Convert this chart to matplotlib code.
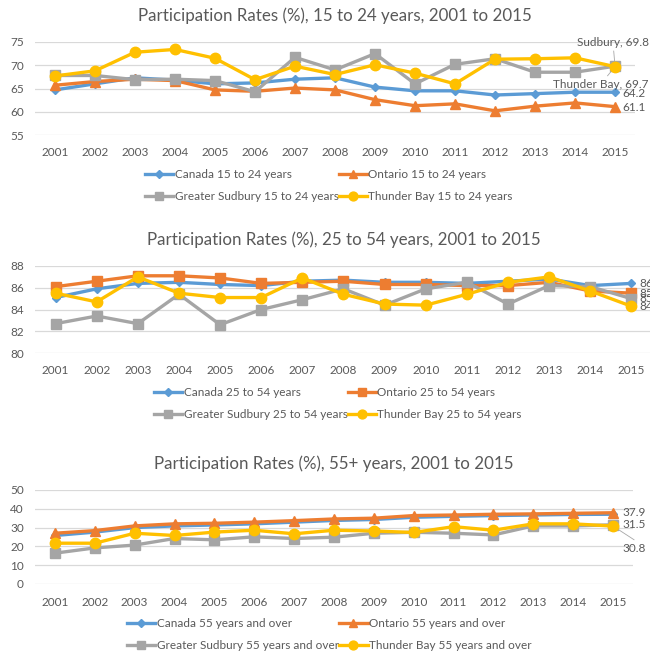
import numpy as np
import matplotlib
matplotlib.use("Agg")
from matplotlib import pyplot as plt

plt.rcParams['font.family'] = ['Lato', 'DejaVu Sans']

years = [str(y) for y in range(2001, 2016)]

# 15 to 24 years
canada_15 = [64.7, 66.0, 67.3, 66.8, 66.0, 66.2, 67.0, 67.3, 65.3, 64.5, 64.5, 63.6, 63.9, 64.2, 64.2]
ontario_15 = [65.7, 66.5, 67.0, 66.7, 64.7, 64.4, 65.1, 64.7, 62.6, 61.3, 61.7, 60.2, 61.2, 61.9, 61.1]
sudbury_15 = [67.8, 67.8, 66.9, 67.0, 66.7, 64.3, 71.7, 69.0, 72.5, 66.0, 70.2, 71.4, 68.5, 68.5, 69.8]
thunder_15 = [67.7, 68.8, 72.8, 73.4, 71.5, 66.9, 69.8, 68.0, 70.1, 68.3, 66.0, 71.3, 71.4, 71.6, 69.7]

# 25 to 54 years
canada_25 = [85.1, 85.9, 86.4, 86.5, 86.3, 86.2, 86.6, 86.7, 86.5, 86.5, 86.4, 86.6, 86.8, 86.2, 86.4]
ontario_25 = [86.1, 86.6, 87.1, 87.1, 86.9, 86.4, 86.5, 86.6, 86.3, 86.3, 86.2, 86.2, 86.5, 85.7, 85.5]
sudbury_25 = [82.7, 83.4, 82.7, 85.4, 82.6, 84.0, 84.9, 85.9, 84.4, 85.9, 86.5, 84.5, 86.2, 86.1, 85.0]
thunder_25 = [85.5, 84.7, 87.0, 85.5, 85.1, 85.1, 86.9, 85.4, 84.5, 84.4, 85.4, 86.5, 87.0, 85.7, 84.3]

# 55 years and over
canada_55 = [25.8, 27.6, 30.0, 30.9, 31.4, 32.0, 32.9, 33.8, 34.3, 35.5, 36.0, 36.4, 36.7, 37.0, 37.1]
ontario_55 = [27.0, 28.4, 30.9, 32.0, 32.3, 32.9, 33.7, 34.6, 35.0, 36.4, 36.7, 37.1, 37.3, 37.6, 37.9]
sudbury_55 = [16.4, 19.2, 20.7, 24.2, 23.5, 25.1, 24.2, 24.9, 27.0, 27.5, 27.0, 26.1, 30.9, 30.9, 31.5]
thunder_55 = [21.7, 21.7, 27.0, 25.8, 27.6, 28.6, 26.7, 28.6, 28.2, 27.4, 30.5, 28.6, 32.0, 32.0, 30.8]

Colors = ['#5B9BD5', '#ED7D31', '#A5A5A5', '#FFC000']
Txt = '#595959'
W, H = 650, 660
Msize = {'D': 4.5, '^': 6.5, 's': 6.5, 'o': 7.5}


def Px_Axes(fig, left, right, top, bottom):
    return fig.add_axes([left / W, 1 - bottom / H, (right - left) / W, (bottom - top) / H])


def Draw_Panel(ax, series, names, markers, ylim, step, title, leg_x, leg_y):
    x = np.arange(len(years))
    lines = []
    for i, (s, n, m) in enumerate(zip(series, names, markers)):
        ln, = ax.plot(x, s, color=Colors[i], lw=2.4, marker=m, ms=Msize[m],
                      mfc=Colors[i], mec=Colors[i], label=n, zorder=3 + i, clip_on=False)
        lines.append(ln)
    ax.set_xlim(-0.5, len(years) - 0.5)
    ax.set_ylim(*ylim)
    ax.set_yticks(np.arange(ylim[0], ylim[1] + 0.01, step))
    ax.set_xticks(x)
    ax.set_xticklabels(years)
    ax.grid(axis='y', color='#D9D9D9', lw=0.9)
    ax.set_axisbelow(True)
    for sp in ax.spines.values():
        sp.set_visible(False)
    ax.tick_params(length=0, labelsize=8.5, colors=Txt)
    ax.tick_params(axis='x', pad=9)
    ax.tick_params(axis='y', pad=8)
    ax.set_title(title, fontsize=12.2, color=Txt, pad=15)
    # legend is filled row by row in the reference
    order = [lines[0], lines[2], lines[1], lines[3]]
    fig.legend(handles=order, ncol=2, loc='upper left',
               bbox_to_anchor=(leg_x / W, 1 - leg_y / H), frameon=False,
               fontsize=8.5, labelcolor=Txt, handlelength=2.4, handletextpad=0.1,
               columnspacing=0.05, labelspacing=0.95, borderaxespad=0, borderpad=0,
               markerscale=0.85)


fig = plt.figure(figsize=(6.5, 6.6), dpi=100)
last = len(years) - 1

# panel 1
ax1 = Px_Axes(fig, 35, 635, 42, 135)
Draw_Panel(ax1, [canada_15, ontario_15, sudbury_15, thunder_15],
           ['Canada 15 to 24 years', 'Ontario 15 to 24 years',
            'Greater Sudbury 15 to 24 years', 'Thunder Bay 15 to 24 years'],
           ['D', '^', 's', 'o'], (55, 75), 5,
           'Participation Rates (%), 15 to 24 years, 2001 to 2015', 145, 169)
ax1.annotate(f'Sudbury, {sudbury_15[-1]:.1f}', (last, sudbury_15[-1]), xytext=(-38, 20),
             textcoords='offset pixels', fontsize=8.5, color=Txt,
             arrowprops=dict(arrowstyle='-', color='#A6A6A6', lw=0.6, shrinkA=0, shrinkB=3))
ax1.annotate(f'Thunder Bay, {thunder_15[-1]:.1f}', (last, thunder_15[-1]), xytext=(-62, -21),
             textcoords='offset pixels', fontsize=8.5, color=Txt,
             arrowprops=dict(arrowstyle='-', color='#A6A6A6', lw=0.6, shrinkA=0, shrinkB=3))
for v in [canada_15[-1], ontario_15[-1]]:
    ax1.annotate(f'{v:.1f}', (last, v), xytext=(7, -1), textcoords='offset pixels',
                 fontsize=8.5, color=Txt, va='center')

# panel 2
ax2 = Px_Axes(fig, 35, 652, 266, 353)
Draw_Panel(ax2, [canada_25, ontario_25, sudbury_25, thunder_25],
           ['Canada 25 to 54 years', 'Ontario 25 to 54 years',
            'Greater Sudbury 25 to 54 years', 'Thunder Bay 25 to 54 years'],
           ['D', 's', 's', 'o'], (80, 88), 2,
           'Participation Rates (%), 25 to 54 years, 2001 to 2015', 154, 387)
for v in [canada_25[-1], ontario_25[-1], sudbury_25[-1], thunder_25[-1]]:
    ax2.annotate(f'{v:.1f}', (last, v), xytext=(8, 0), textcoords='offset pixels',
                 fontsize=8.5, color=Txt, va='center', annotation_clip=False)

# panel 3
ax3 = Px_Axes(fig, 35, 633, 490, 584)
Draw_Panel(ax3, [canada_55, ontario_55, sudbury_55, thunder_55],
           ['Canada 55 years and over', 'Ontario 55 years and over',
            'Greater Sudbury 55 years and over', 'Thunder Bay 55 years and over'],
           ['D', '^', 's', 'o'], (0, 50), 10,
           'Participation Rates (%), 55+ years, 2001 to 2015', 127, 618)
ax3.annotate(f'{ontario_55[-1]:.1f}', (last, ontario_55[-1]), xytext=(9, 0),
             textcoords='offset pixels', fontsize=8.5, color=Txt, va='center')
ax3.annotate(f'{sudbury_55[-1]:.1f}', (last, sudbury_55[-1]), xytext=(9, 0),
             textcoords='offset pixels', fontsize=8.5, color=Txt, va='center')
ax3.annotate(f'{thunder_55[-1]:.1f}', (last, thunder_55[-1]), xytext=(9, -22),
             textcoords='offset pixels', fontsize=8.5, color=Txt, va='center',
             arrowprops=dict(arrowstyle='-', color='#A6A6A6', lw=0.6, shrinkA=0, shrinkB=3,
                             relpos=(0.7, 1.0)))

fig.savefig('out.png', dpi=100)
